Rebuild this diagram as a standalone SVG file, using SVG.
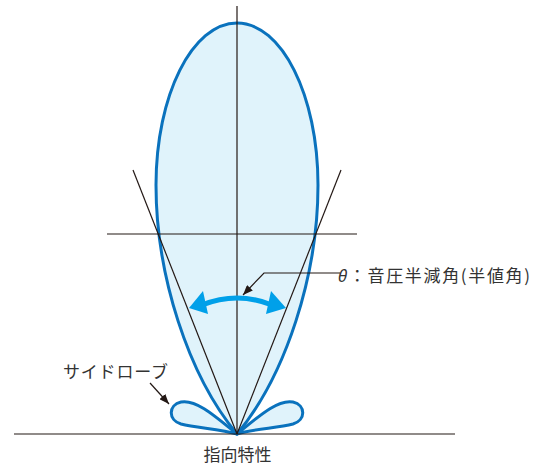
<svg xmlns="http://www.w3.org/2000/svg" width="542" height="466" viewBox="0 0 542 466">
<style>
.lobe{fill:#e0f3fb;stroke:#0a72bd;stroke-width:3;stroke-linejoin:round}
.ln{fill:none;stroke:#231815;stroke-width:1.2}
.txt{font-family:"Noto Sans CJK JP","Noto Sans",sans-serif;font-size:17px;fill:#333}
.blue{fill:#00a0e9}
</style>
<defs>
<marker id="ah" viewBox="0 0 10 8" refX="10" refY="4" markerWidth="10" markerHeight="8" markerUnits="userSpaceOnUse" orient="auto">
<path d="M0,0 L10,4 L0,8 Z" fill="#231815"/>
</marker>
</defs>
<rect width="542" height="466" fill="#fff"/>
<g id="main-lobe">
<path class="lobe" d="M237,23 C192.3,23 156,95.5 156,185 C156,275 188,375 237,434 C286,375 318,275 318,185 C318,95.5 281.7,23 237,23 Z"/>
</g>
<g id="side-lobe-left">
<path class="lobe" d="M237,434 C215,416 196,399 181,402 C168,405 168,420 181,424 C197,428 221,429 237,434 Z"/>
</g>
<g id="side-lobe-right">
<path class="lobe" d="M237,434 C259,416 278,399 293,402 C306,405 306,420 293,424 C277,428 253,429 237,434 Z"/>
</g>
<g id="connectors">
<line class="ln" x1="237" y1="6" x2="237" y2="434"/>
<line class="ln" x1="107" y1="234" x2="357" y2="234"/>
<line class="ln" x1="133" y1="170" x2="237" y2="434"/>
<line class="ln" x1="341" y1="170" x2="237" y2="434"/>
<line class="ln" x1="14" y1="434" x2="455" y2="434"/>
<polyline class="ln" points="340,273 264,273 243,295" marker-end="url(#ah)"/>
<line class="ln" x1="150" y1="383" x2="169" y2="404" marker-end="url(#ah)"/>
<g id="half-angle-arrow">
<path d="M202,305 Q237,291 272,305" fill="none" stroke="#00a0e9" stroke-width="5"/>
<polygon class="blue" points="189,308 203,291 208,314"/>
<polygon class="blue" points="286,308 271,291 266,314"/>
</g>
</g>
<g id="labels">
<text class="txt" x="338" y="282" font-size="17.5" textLength="192"><tspan font-style="italic" font-family="Noto Sans, sans-serif">θ</tspan>：音圧半減角(半値角)</text>
<text class="txt" x="63" y="378" font-size="17.5" textLength="105">サイドローブ</text>
<text class="txt" x="237.5" y="461" text-anchor="middle" font-size="17.5">指向特性</text>
</g>
</svg>
